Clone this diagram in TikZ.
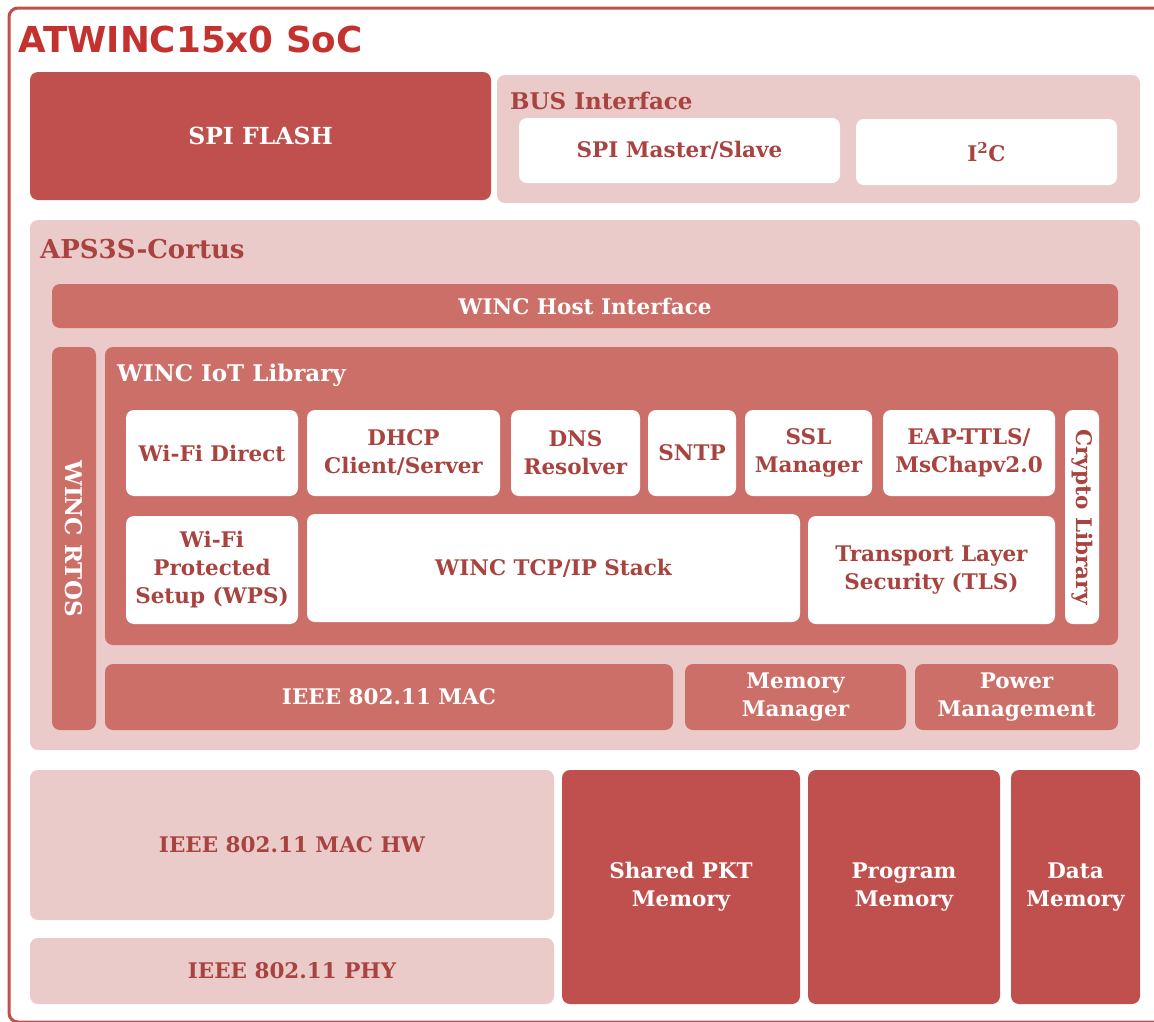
\documentclass[tikz,border=0pt]{standalone}
\usepackage{fontspec}
\setmainfont{DejaVu Serif}
\newfontfamily\titlefont{DejaVu Sans}
\definecolor{socdark}{HTML}{C0504D}
\definecolor{socmid}{HTML}{CC6F69}
\definecolor{soclight}{HTML}{EBCBCA}
\definecolor{soctext}{HTML}{A8433F}
\definecolor{soctitle}{HTML}{C43230}
\begin{document}
\begin{tikzpicture}[x=1pt,y=-1pt,
    blk/.style={rounded corners=8pt,inner sep=0pt,align=center,
      font=\fontsize{21.5}{28}\selectfont\bfseries},
    darkblk/.style={blk,fill=socdark,text=white},
    midblk/.style={blk,fill=socmid,text=white},
    lightblk/.style={blk,fill=soclight,text=soctext},
    whiteblk/.style={blk,fill=white,text=soctext},
    boxlabel/.style={anchor=base west,inner sep=0pt,font=\fontsize{23}{28}\selectfont\bfseries},
    vlabel/.style={rotate=-90,inner sep=0pt,font=\fontsize{21.5}{28}\selectfont\bfseries}]
  \useasboundingbox (0,0) rectangle (1154,1021);
  \begin{scope}
    \clip (0,0) rectangle (1154,1021);
    \draw[socdark,line width=3pt,rounded corners=9pt] (9,8) rectangle (1200,1022);
  \end{scope}
  \node[anchor=base west,inner sep=0pt,text=soctitle,font=\titlefont\fontsize{35.7}{40}\selectfont\bfseries]
    (title) at (18,52) {ATWINC15x0 SoC};

  % top row
  \node[darkblk,minimum width=461pt,minimum height=128pt,font=\fontsize{23.5}{28}\selectfont\bfseries]
    (flash) at (260.5,136) {SPI FLASH};
  \node[lightblk,minimum width=643pt,minimum height=128pt] (bus) at (818.5,139) {};
  \node[boxlabel,text=soctext] (buslabel) at (510,109) {BUS Interface};
  \node[whiteblk,minimum width=321pt,minimum height=65pt] (spi) at (679.5,150.5) {SPI Master/Slave};
  \node[whiteblk,minimum width=261pt,minimum height=66pt] (i2c) at (986.5,152) {I\textsuperscript{2}C};

  % processor
  \node[lightblk,minimum width=1110pt,minimum height=530pt] (cpu) at (585,485) {};
  \node[boxlabel,text=soctext,font=\fontsize{26}{28}\selectfont\bfseries] (cpulabel) at (40,258) {APS3S-Cortus};
  \node[midblk,minimum width=1066pt,minimum height=44pt] (host) at (585,306) {WINC Host Interface};
  \node[midblk,minimum width=44pt,minimum height=383pt] (rtos) at (74,538.5) {};
  \node[vlabel,text=white,font=\fontsize{23}{28}\selectfont\bfseries] (rtoslabel) at (rtos.center) {WINC RTOS};
  \node[midblk,minimum width=1013pt,minimum height=298pt] (iot) at (611.5,496) {};
  \node[boxlabel,text=white] (iotlabel) at (117,381) {WINC IoT Library};

  \node[whiteblk,minimum width=172pt,minimum height=86pt] (p2p) at (212,453) {Wi-Fi Direct};
  \node[whiteblk,minimum width=193pt,minimum height=86pt] (dhcp) at (403.5,453) {DHCP\\Client/Server};
  \node[whiteblk,minimum width=129pt,minimum height=86pt] (dns) at (575.5,453) {DNS\\Resolver};
  \node[whiteblk,minimum width=88pt,minimum height=86pt] (sntp) at (692,453) {SNTP};
  \node[whiteblk,minimum width=127pt,minimum height=86pt] (ssl) at (808.5,453) {SSL\\Manager};
  \node[whiteblk,minimum width=172pt,minimum height=86pt] (eap) at (969,453) {EAP-TTLS/\\MsChapv2.0};
  \node[whiteblk,minimum width=34pt,minimum height=214pt] (crypto) at (1082,517) {};
  \node[vlabel,text=soctext] (cryptolabel) at (crypto.center) {Crypto Library};
  \node[whiteblk,minimum width=172pt,minimum height=108pt] (wps) at (212,570) {Wi-Fi\\Protected\\Setup (WPS)};
  \node[whiteblk,minimum width=493pt,minimum height=108pt] (tcpip) at (553.5,568) {WINC TCP/IP Stack};
  \node[whiteblk,minimum width=247pt,minimum height=108pt] (tls) at (931.5,570) {Transport Layer\\Security (TLS)};

  \node[midblk,minimum width=568pt,minimum height=66pt] (mac) at (389,697) {IEEE 802.11 MAC};
  \node[midblk,minimum width=221pt,minimum height=66pt] (memmgr) at (795.5,697) {Memory\\Manager};
  \node[midblk,minimum width=203pt,minimum height=66pt] (power) at (1016.5,697) {Power\\Management};

  % hardware
  \node[lightblk,minimum width=524pt,minimum height=150pt] (machw) at (292,845) {IEEE 802.11 MAC HW};
  \node[lightblk,minimum width=524pt,minimum height=66pt] (phy) at (292,971) {IEEE 802.11 PHY};
  \node[darkblk,minimum width=238pt,minimum height=234pt] (pktmem) at (681,887) {Shared PKT\\Memory};
  \node[darkblk,minimum width=192pt,minimum height=234pt] (progmem) at (904,887) {Program\\Memory};
  \node[darkblk,minimum width=129pt,minimum height=234pt] (datamem) at (1075.5,887) {Data\\Memory};
\end{tikzpicture}
\end{document}
